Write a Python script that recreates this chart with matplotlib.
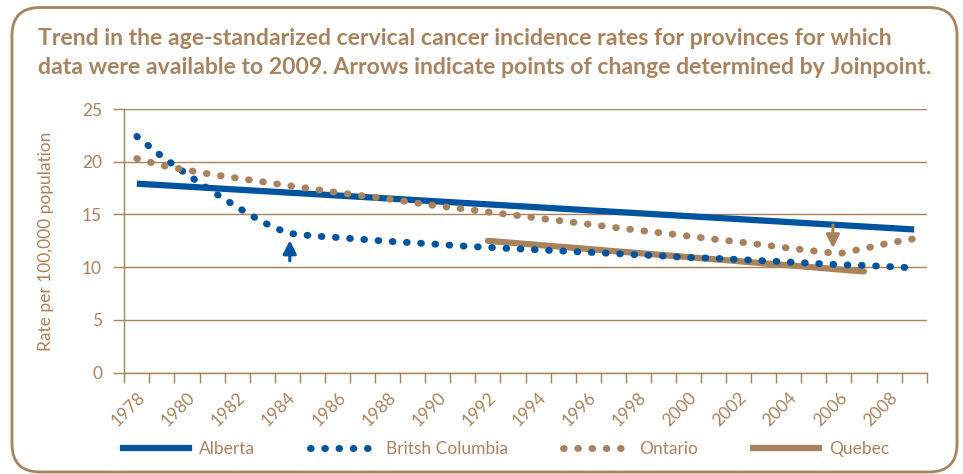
import matplotlib.pyplot as plt
from matplotlib.patches import FancyBboxPatch
from matplotlib.lines import Line2D

# values (rate per 100,000)
years = list(range(1978, 2010))
alberta = [17.92, 17.78, 17.64, 17.50, 17.36, 17.22, 17.08, 16.94, 16.80, 16.66,
           16.52, 16.38, 16.24, 16.10, 15.96, 15.82, 15.68, 15.54, 15.40, 15.26,
           15.12, 14.98, 14.84, 14.70, 14.56, 14.42, 14.28, 14.14, 14.00, 13.86,
           13.72, 13.58]
bc = [22.4, 20.5, 18.8, 17.2, 15.7, 14.3, 13.23, 12.97, 12.82, 12.64, 12.46,
      12.32, 12.17, 12.01, 11.88, 11.76, 11.65, 11.53, 11.42, 11.3, 11.18,
      11.06, 10.93, 10.85, 10.73, 10.61, 10.49, 10.37, 10.24, 10.17, 10.06, 9.93]
ontario = [20.3, 19.65, 19.2, 18.8, 18.45, 18.1, 17.75, 17.42, 17.08, 16.77,
           16.49, 16.14, 15.81, 15.53, 15.24, 14.95, 14.65, 14.37, 14.08, 13.78,
           13.5, 13.23, 12.95, 12.66, 12.4, 12.11, 11.82, 11.54, 11.28, 11.77,
           12.3, 12.7]
quebec_years = list(range(1992, 2008))
quebec = [12.5, 12.31, 12.11, 11.92, 11.73, 11.53, 11.34, 11.15, 10.95, 10.76,
          10.57, 10.37, 10.18, 9.99, 9.79, 9.6]

title = ("Trend in the age-standarized cervical cancer incidence rates for provinces for which\n"
         "data were available to 2009. Arrows indicate points of change determined by Joinpoint.")

blue = '#00539F'
brown = '#A8835E'

plt.rcParams['font.family'] = ['Lato', 'DejaVu Sans']

fig = plt.figure(figsize=(9.63, 4.74), dpi=100)

# rounded frame
frame = FancyBboxPatch((0.12, 0.02), 9.45, 4.645,
                       boxstyle="round,pad=0,rounding_size=0.28",
                       transform=fig.dpi_scale_trans, fill=False,
                       ec=brown, lw=2)
fig.add_artist(frame)

fig.text(38 / 963, 1 - 53 / 474, title, color=brown, fontsize=16.6,
         fontweight='bold', ha='left', va='center', linespacing=1.5)

ax = fig.add_axes([124.3 / 963, 101.3 / 474, 802.4 / 963, 263.7 / 474])

x = [y - years[0] for y in years]
qx = [y - years[0] for y in quebec_years]
dots = (0, (0.1, 1.95))

ax.plot(x, alberta, color=blue, lw=4.5, solid_capstyle='butt', zorder=3)
ax.plot(qx, quebec, color=brown, lw=4.5, solid_capstyle='round', zorder=3)
ax.plot(x, bc, color=blue, lw=5, linestyle=dots, dash_capstyle='round', zorder=4)
ax.plot(x, ontario, color=brown, lw=5, linestyle=dots, dash_capstyle='round', zorder=4)

# joinpoint arrows
ax.annotate('', xy=(6.1, 12.55), xytext=(6.1, 10.6),
            arrowprops=dict(arrowstyle='-|>', color=blue, lw=2.2, mutation_scale=20,
                            shrinkA=0, shrinkB=0))
ax.annotate('', xy=(27.76, 11.8), xytext=(27.76, 14.0),
            arrowprops=dict(arrowstyle='-|>', color=brown, lw=2.2, mutation_scale=20,
                            shrinkA=0, shrinkB=0))

ax.set_xlim(-0.5, len(years) - 0.5)
ax.set_ylim(0, 25)
ax.set_yticks(range(0, 26, 5))
ax.yaxis.grid(True, color=brown, lw=1)
ax.set_axisbelow(True)

ax.set_xticks(x[::2], [str(y) for y in years[::2]], rotation=45,
              ha='right', va='top', rotation_mode='anchor')
ax.set_xticks([i - 0.5 for i in range(len(years) + 1)], minor=True)
ax.tick_params(axis='x', which='major', length=0, pad=12, colors=brown, labelsize=12.5)
ax.tick_params(axis='x', which='minor', length=7, width=1, color=brown)
ax.tick_params(axis='y', length=8, width=1, color=brown, labelcolor=brown,
               labelsize=12.5, pad=8)

for s in ['top', 'right']:
    ax.spines[s].set_visible(False)
for s in ['left', 'bottom']:
    ax.spines[s].set_color(brown)
    ax.spines[s].set_linewidth(1)

ax.set_ylabel('Rate per 100,000 population', color=brown, fontsize=12.5, labelpad=20)

handles = [
    Line2D([], [], color=blue, lw=4.5),
    Line2D([], [], color=blue, lw=5, linestyle=dots, dash_capstyle='round'),
    Line2D([], [], color=brown, lw=5, linestyle=dots, dash_capstyle='round'),
    Line2D([], [], color=brown, lw=4.5),
]
labels = ['Alberta', 'Britsh Columbia', 'Ontario', 'Quebec']
leg = fig.legend(handles, labels, loc='center', bbox_to_anchor=(506 / 963, 1 - 449 / 474),
                 ncol=4, frameon=False, fontsize=12.5, handlelength=3.8,
                 handletextpad=0.55, columnspacing=3.2)
for t in leg.get_texts():
    t.set_color(brown)

fig.savefig('out.png', dpi=100)
